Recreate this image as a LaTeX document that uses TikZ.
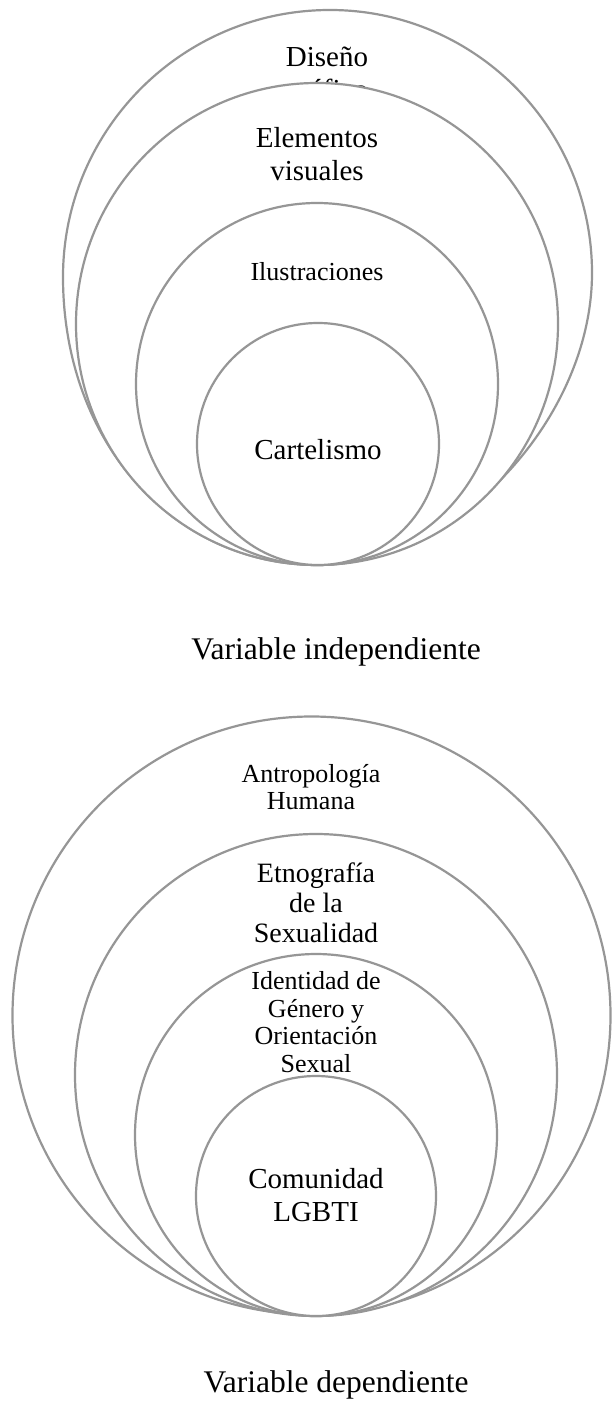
\documentclass[tikz,border=0pt]{standalone}
\usepackage{fontspec}
\setmainfont{Liberation Serif}
\usepackage{tikz}
\definecolor{ringgray}{RGB}{150,150,150}
\tikzset{every picture/.append style={x=1pt, y=-1pt}}
\tikzset{
    ring/.style={draw=ringgray, fill=white, line width=2.2pt},
    big/.style={align=center, inner sep=0pt, font=\fontsize{29}{33}\selectfont},
    mid/.style={align=center, inner sep=0pt, font=\fontsize{28}{30}\selectfont},
    small/.style={align=center, inner sep=0pt, font=\fontsize{26}{27.5}\selectfont},
    caption/.style={inner sep=0pt, font=\fontsize{31.5}{35}\selectfont}
}

\begin{document}
\begin{tikzpicture}
	\useasboundingbox (0,0) rectangle (611,1404);

	% variable independiente
	\draw[ring] (63,277) arc[start angle=180, end angle=270, radius=267]
		arc[start angle=270, end angle=360, x radius=262, y radius=263]
		.. controls (592,419) and (455,565) .. (318,565)
		.. controls (172.6,565) and (63,441.2) .. (63,277) -- cycle;
	\node (disenio) [big] at (327,76.5) {Diseño\\gráfico};
	\draw[ring] (317,324) circle [radius=241];
	\node (elementos) [big] at (317,154) {Elementos\\visuales};
	\draw[ring] (317,384) circle [radius=181];
	\node (ilustraciones) [small] at (317,272) {Ilustraciones};
	\draw[ring] (318,444) circle [radius=121];
	\node (cartelismo) [big] at (318,450) {Cartelismo};
	\node (indep) [caption] at (336,652) {Variable independiente};

	% variable dependiente
	\draw[ring] (311.5,1015.5) circle [radius=299];
	\node (antropologia) [small] at (311,787) {Antropología\\Humana};
	\draw[ring] (316,1075) circle [radius=241];
	\node (etnografia) [mid] at (316,903) {Etnografía\\de la\\Sexualidad};
	\draw[ring] (316,1135) circle [radius=181];
	\node (identidad) [small] at (316,1022) {Identidad de\\Género y\\Orientación\\Sexual};
	\draw[ring] (316,1196) circle [radius=120];
	\node (comunidad) [big] at (316,1195) {Comunidad\\LGBTI};
	\node (dep) [caption] at (336,1385) {Variable dependiente};
\end{tikzpicture}
\end{document}
